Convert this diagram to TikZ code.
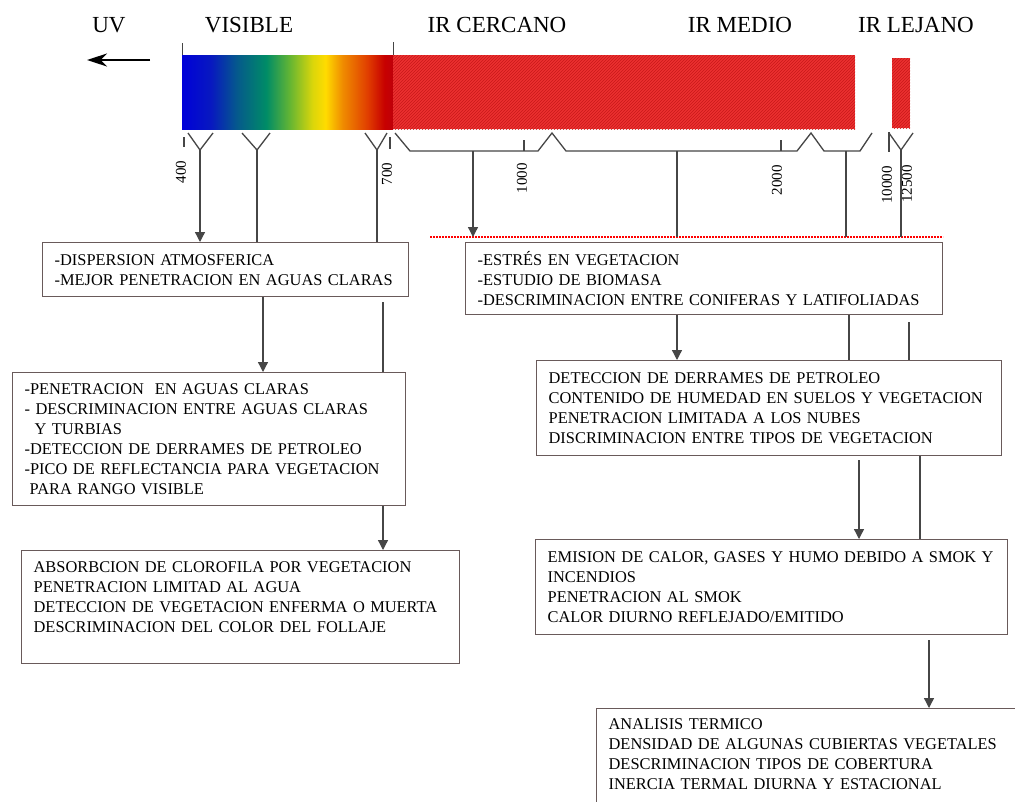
\documentclass[tikz,border=0pt]{standalone}
\usepackage{fontspec}
\setmainfont{Liberation Serif}
\usetikzlibrary{arrows.meta,patterns}

\definecolor{boxline}{RGB}{105,90,90}
\definecolor{stemgray}{RGB}{70,70,70}
\definecolor{irred}{RGB}{236,48,48}
\definecolor{irhatch}{RGB}{200,25,25}

\pgfdeclarehorizontalshading{visband}{100bp}{%
  rgb(0bp)=(0,0,0.85); rgb(25bp)=(0,0,0.85); rgb(32bp)=(0.03,0.1,0.75);
  rgb(38bp)=(0.02,0.35,0.55); rgb(45bp)=(0,0.55,0.4); rgb(50.5bp)=(0.39,0.71,0.2);
  rgb(56bp)=(0.86,0.84,0.04); rgb(59bp)=(1,0.86,0); rgb(63bp)=(0.94,0.55,0);
  rgb(69bp)=(0.88,0.24,0); rgb(73bp)=(0.78,0,0); rgb(75bp)=(0.75,0,0.04);
  rgb(100bp)=(0.75,0,0.04)}

\begin{document}
\begin{tikzpicture}[x=1pt,y=-1pt]
  \tikzstyle{band}=[font=\fontsize{23}{26}\selectfont,anchor=base,inner sep=0pt]
  \tikzstyle{nm}=[font=\fontsize{15}{17}\selectfont,rotate=90,inner sep=0pt]
  \tikzstyle{box}=[rectangle,draw=boxline,line width=1.3pt,fill=white,anchor=north west,align=left,inner xsep=12pt,inner ysep=4pt,font=\fontsize{16.4}{20}\selectfont]
  \tikzstyle{stem}=[stemgray,line width=1.3pt]
  \tikzstyle{arr}=[stem,-{Triangle[length=10pt,width=10pt]}]
  \tikzstyle{limit}=[red,line width=2pt,dash pattern=on 2pt off 1pt]
  \fill [white] (0,0) rectangle (1015,801);
  \useasboundingbox (0,0) rectangle (1015,801);

  % band names
  \node (uv)  at (109,32) [band] {UV};
  \node (vis) at (249,32) [band] {VISIBLE};
  \node (irc) at (497,32) [band] {IR CERCANO};
  \node (irm) at (740,32) [band] {IR MEDIO};
  \node (irl) at (916,32) [band] {IR LEJANO};
  \coordinate (uvs) at (150,60);
  \coordinate (uve) at (87,60);
  \draw [black,line width=2pt,-{Stealth[length=20pt,width=13pt]}] (uvs) -- (uve);

  % spectrum
  \shade [shading=visband] (182,55) rectangle (393,129);
  \fill [irred] (393,55) rectangle (855,129);
  \path [pattern=north east lines,pattern color=irhatch] (393,55) rectangle (855,129);
  \fill [irred] (892,58) rectangle (910,128);
  \path [pattern=north east lines,pattern color=irhatch] (892,58) rectangle (910,128);
  \draw [stem,line width=1pt] (182,43) -- (182,55);
  \draw [stem,line width=1pt] (393,42) -- (393,55);

  % scale under the band
  \draw [stem] (184,137) -- (184,147);
  \draw [stem] (188,133) -- (200,150) -- (213,133);
  \draw [stem] (242,133) -- (257,150) -- (270,133);
  \draw [stem] (365,133) -- (377,150) -- (387,133);
  \draw [stem] (390,137) -- (390,149);
  \draw [stem] (395,133) -- (410,151) -- (538,151) -- (552,133) -- (566,151) -- (797,151) -- (811,133) -- (824,151) -- (860,151) -- (872,133);
  \draw [stem] (524,140) -- (524,151);
  \draw [stem] (781,140) -- (781,151);
  \draw [stem] (889,132) -- (889,152);
  \draw [stem] (889,133) -- (901,150) -- (913,133);
  \node (n400)   at (181,172) [nm] {400};
  \node (n700)   at (387,174) [nm] {700};
  \node (n1000)  at (522,178) [nm] {1000};
  \node (n2000)  at (777,180) [nm] {2000};
  \node (n10000) at (887,185) [nm] {10000};
  \node (n12500) at (907,184) [nm] {12500};

  \coordinate (v1) at (200,150);
  \coordinate (v2) at (257,150);
  \coordinate (v3) at (377,150);
  \coordinate (i1) at (473,151);
  \coordinate (i2) at (677,151);
  \coordinate (i3) at (846,151);
  \coordinate (i4) at (901,150);
  \coordinate (lim0) at (430,237);
  \coordinate (lim1) at (943,237);
  \draw [limit] (lim0) -- (lim1);

  % boxes
  \node (disp) at (42,242) [box,text width=342pt,minimum height=54pt]
    {-DISPERSION ATMOSFERICA\\\mbox{-MEJOR PENETRACION EN AGUAS CLARAS}};
  \node (pene) at (12,372) [box,text width=369pt,minimum height=133pt]
    {-PENETRACION\ \ EN AGUAS CLARAS\\\mbox{- DESCRIMINACION ENTRE AGUAS CLARAS}\\\hspace*{10pt}Y TURBIAS\\-DETECCION DE DERRAMES DE PETROLEO\\\mbox{-PICO DE REFLECTANCIA PARA VEGETACION}\\\hspace*{5pt}PARA RANGO VISIBLE};
  \node (abso) at (21,550) [box,text width=414pt,minimum height=113pt]
    {ABSORBCION DE CLOROFILA POR VEGETACION\\PENETRACION LIMITAD AL AGUA\\\mbox{DETECCION DE VEGETACION ENFERMA O MUERTA}\\DESCRIMINACION DEL COLOR DEL FOLLAJE\\~};
  \node (estr) at (465,242) [box,text width=453pt,minimum height=72pt]
    {-ESTRÉS EN VEGETACION\\-ESTUDIO DE BIOMASA\\\mbox{-DESCRIMINACION ENTRE CONIFERAS Y LATIFOLIADAS}};
  \node (detc) at (536,360) [box,text width=441pt,minimum height=95pt]
    {DETECCION DE DERRAMES DE PETROLEO\\\mbox{CONTENIDO DE HUMEDAD EN SUELOS Y VEGETACION}\\PENETRACION LIMITADA A LOS NUBES\\\mbox{DISCRIMINACION ENTRE TIPOS DE VEGETACION}};
  \node (emis) at (535,539) [box,text width=448pt,minimum height=95pt]
    {\mbox{EMISION DE CALOR, GASES Y HUMO DEBIDO A SMOK Y}\\INCENDIOS\\PENETRACION AL SMOK\\CALOR DIURNO REFLEJADO/EMITIDO};
  \node (anal) at (596,708) [box,text width=420pt,minimum height=110pt]
    {ANALISIS TERMICO\\\mbox{DENSIDAD DE ALGUNAS CUBIERTAS VEGETALES}\\DESCRIMINACION TIPOS DE COBERTURA\\INERCIA TERMAL DIURNA Y ESTACIONAL\\~};

  % connectors
  \draw [arr]  (v1) -- (v1 |- disp.north);
  \draw [stem] (v2) -- (v2 |- disp.north);
  \draw [stem] (v3) -- (v3 |- disp.north);
  \coordinate (d1) at (263,296);
  \coordinate (d2) at (383,302);
  \draw [arr]  (d1 |- disp.south) -- (d1 |- pene.north);
  \draw [stem] (d2) -- (d2 |- pene.north);
  \coordinate (p1) at (383,505);
  \draw [arr]  (p1 |- pene.south) -- (p1 |- abso.north);
  \draw [arr]  (i1) -- (i1 |- lim0);
  \draw [stem] (i2) -- (i2 |- lim0);
  \draw [stem] (i3) -- (i3 |- lim0);
  \draw [stem] (i4) -- (i4 |- lim0);
  \coordinate (e1) at (677,314);
  \coordinate (e2) at (849,314);
  \coordinate (e3) at (909,322);
  \draw [arr]  (e1 |- estr.south) -- (e1 |- detc.north);
  \draw [stem] (e2 |- estr.south) -- (e2 |- detc.north);
  \draw [stem] (e3) -- (e3 |- detc.north);
  \coordinate (t1) at (859,460);
  \coordinate (t2) at (920,455);
  \draw [arr]  (t1) -- (t1 |- emis.north);
  \draw [stem] (t2 |- detc.south) -- (t2 |- emis.north);
  \coordinate (m1) at (929,640);
  \draw [arr]  (m1) -- (m1 |- anal.north);
\end{tikzpicture}
\end{document}
